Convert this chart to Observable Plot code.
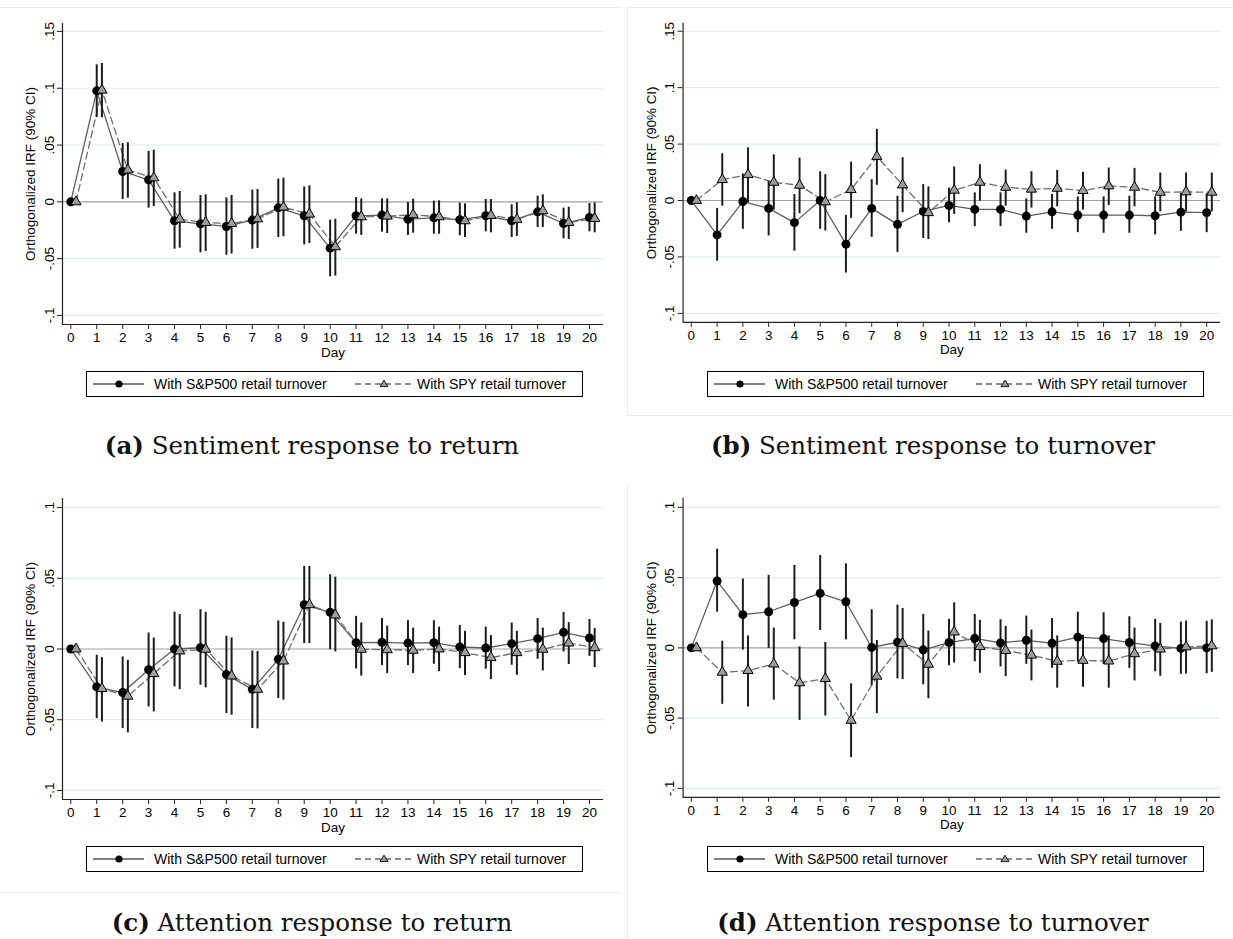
<!DOCTYPE html>
<html><head><meta charset="utf-8">
<script src="https://cdn.jsdelivr.net/npm/d3@7"></script>
<script src="https://cdn.jsdelivr.net/npm/@observablehq/plot@0.6"></script>
<style>
body{margin:0;background:#fff;}
#root{position:relative;width:1233px;height:939px;overflow:hidden;background:#fff;font-family:"Liberation Sans",Arial,sans-serif;}
.panel{position:absolute;}
.legend{position:absolute;border:1px solid #000;background:#fff;box-sizing:border-box;height:26px;width:497px;font-size:14px;color:#000;}
.legend span{position:absolute;top:50%;transform:translateY(-50%);white-space:nowrap;}
.legend svg{position:absolute;left:0;top:0;}
.cap{position:absolute;font-family:"DejaVu Serif",serif;font-size:24.5px;white-space:nowrap;transform:translate(-50%,-50%);color:#111;}
.bline{position:absolute;background:#ececec;}
</style></head><body><div id="root"></div>
<script>
// ---- data ----
const days = [0,1,2,3,4,5,6,7,8,9,10,11,12,13,14,15,16,17,18,19,20];
const topTicks = [-0.1,-0.05,0,0.05,0.1,0.15];
const bottomTicks = [-0.1,-0.05,0,0.05,0.1];
const seriesNames = ["With S&P500 retail turnover","With SPY retail turnover"];
const captionsBold = ["(a)","(b)","(c)","(d)"];
const captionsText = ["Sentiment response to return","Sentiment response to turnover","Attention response to return","Attention response to turnover"];
const yLabel = "Orthogonalized IRF (90% CI)";
const xLabel = "Day";

// (a) Sentiment response to return
const aSP    = [0,0.0977,0.0267,0.0194,-0.0167,-0.0194,-0.0217,-0.0161,-0.0053,-0.0123,-0.0408,-0.0123,-0.0117,-0.0153,-0.0141,-0.0158,-0.0123,-0.0167,-0.0088,-0.0191,-0.0138];
const aSPlo  = [null,0.0742,0.0020,-0.0056,-0.0417,-0.0449,-0.0470,-0.0417,-0.0314,-0.0379,-0.0660,-0.0285,-0.0267,-0.0296,-0.0285,-0.0299,-0.0264,-0.0314,-0.0226,-0.0326,-0.0264];
const aSPhi  = [null,0.1206,0.0513,0.0443,0.0079,0.0056,0.0035,0.0103,0.0200,0.0132,-0.0161,0.0038,0.0026,-0.0006,0.0006,-0.0012,0.0020,-0.0026,0.0050,-0.0056,-0.0015];
const aSPY   = [0,0.0983,0.0280,0.0211,-0.0153,-0.0182,-0.0191,-0.0150,-0.0047,-0.0108,-0.0396,-0.0132,-0.0126,-0.0114,-0.0132,-0.0167,-0.0120,-0.0155,-0.0079,-0.0182,-0.0147];
const aSPYlo = [null,0.0740,0.0032,-0.0041,-0.0408,-0.0437,-0.0460,-0.0410,-0.0308,-0.0367,-0.0654,-0.0296,-0.0279,-0.0276,-0.0285,-0.0314,-0.0273,-0.0305,-0.0226,-0.0332,-0.0273];
const aSPYhi = [null,0.1218,0.0520,0.0455,0.0091,0.0062,0.0056,0.0109,0.0209,0.0141,-0.0153,0.0026,0.0026,0.0023,0.0009,-0.0018,0.0020,-0.0009,0.0062,-0.0047,-0.0009];

// (b) Sentiment response to turnover
const bSP    = [0,-0.0305,-0.0009,-0.0070,-0.0196,0.0000,-0.0387,-0.0070,-0.0211,-0.0097,-0.0044,-0.0079,-0.0079,-0.0138,-0.0100,-0.0129,-0.0129,-0.0129,-0.0135,-0.0103,-0.0108];
const bSPlo  = [null,-0.0537,-0.0255,-0.0314,-0.0449,-0.0255,-0.0643,-0.0326,-0.0460,-0.0337,-0.0196,-0.0232,-0.0232,-0.0290,-0.0255,-0.0285,-0.0290,-0.0290,-0.0305,-0.0273,-0.0285];
const bSPhi  = [null,-0.0070,0.0235,0.0170,0.0053,0.0255,-0.0132,0.0185,0.0038,0.0141,0.0112,0.0068,0.0068,0.0015,0.0053,0.0032,0.0032,0.0038,0.0032,0.0062,0.0059];
const bSPY   = [0,0.0185,0.0229,0.0161,0.0135,-0.0012,0.0097,0.0390,0.0138,-0.0108,0.0091,0.0161,0.0117,0.0100,0.0108,0.0088,0.0129,0.0117,0.0073,0.0076,0.0073];
const bSPYlo = [null,-0.0050,-0.0021,-0.0085,-0.0117,-0.0270,-0.0158,0.0135,-0.0108,-0.0346,-0.0123,-0.0006,-0.0050,-0.0067,-0.0056,-0.0085,-0.0044,-0.0056,-0.0100,-0.0100,-0.0100];
const bSPYhi = [null,0.0414,0.0467,0.0405,0.0376,0.0229,0.0340,0.0631,0.0379,0.0121,0.0297,0.0317,0.0270,0.0255,0.0267,0.0250,0.0288,0.0285,0.0244,0.0244,0.0244];

// (c) Attention response to return
const cSP    = [0,-0.0268,-0.0308,-0.0146,0.0000,0.0009,-0.0181,-0.0285,-0.0073,0.0313,0.0259,0.0045,0.0047,0.0042,0.0045,0.0014,0.0007,0.0038,0.0073,0.0118,0.0078];
const cSPlo  = [null,-0.0492,-0.0562,-0.0410,-0.0268,-0.0256,-0.0456,-0.0562,-0.0350,0.0038,-0.0005,-0.0141,-0.0117,-0.0117,-0.0108,-0.0139,-0.0143,-0.0115,-0.0073,-0.0021,-0.0052];
const cSPhi  = [null,-0.0044,-0.0056,0.0113,0.0261,0.0278,0.0090,-0.0014,0.0198,0.0584,0.0525,0.0231,0.0215,0.0200,0.0200,0.0167,0.0155,0.0184,0.0215,0.0259,0.0208];
const cSPY   = [0,-0.0280,-0.0334,-0.0174,-0.0014,-0.0002,-0.0191,-0.0285,-0.0085,0.0313,0.0240,-0.0002,-0.0005,-0.0009,0.0000,-0.0026,-0.0061,-0.0026,-0.0002,0.0042,0.0009];
const cSPYlo = [null,-0.0516,-0.0593,-0.0445,-0.0287,-0.0275,-0.0468,-0.0565,-0.0362,0.0038,-0.0021,-0.0191,-0.0174,-0.0174,-0.0160,-0.0188,-0.0216,-0.0186,-0.0155,-0.0110,-0.0131];
const cSPYhi = [null,-0.0061,-0.0080,0.0078,0.0243,0.0259,0.0078,-0.0018,0.0189,0.0584,0.0508,0.0184,0.0162,0.0148,0.0155,0.0125,0.0095,0.0125,0.0148,0.0186,0.0144];

// (d) Attention response to turnover
const dSP    = [0,0.0476,0.0236,0.0257,0.0323,0.0388,0.0328,0.0003,0.0040,-0.0014,0.0038,0.0068,0.0035,0.0054,0.0033,0.0076,0.0066,0.0038,0.0014,-0.0004,0.0000];
const dSPlo  = [null,0.0254,-0.0016,-0.0004,0.0057,0.0123,0.0057,-0.0268,-0.0221,-0.0263,-0.0127,-0.0099,-0.0136,-0.0117,-0.0146,-0.0103,-0.0117,-0.0146,-0.0170,-0.0188,-0.0184];
const dSPhi  = [null,0.0702,0.0490,0.0516,0.0586,0.0657,0.0598,0.0271,0.0304,0.0238,0.0203,0.0238,0.0200,0.0226,0.0208,0.0254,0.0250,0.0222,0.0203,0.0184,0.0189];
const dSPY   = [0,-0.0174,-0.0162,-0.0115,-0.0249,-0.0219,-0.0516,-0.0202,0.0031,-0.0117,0.0113,0.0009,-0.0019,-0.0052,-0.0096,-0.0089,-0.0094,-0.0042,-0.0009,0.0007,0.0014];
const dSPYlo = [null,-0.0402,-0.0421,-0.0372,-0.0516,-0.0485,-0.0781,-0.0468,-0.0226,-0.0362,-0.0108,-0.0181,-0.0205,-0.0235,-0.0287,-0.0280,-0.0287,-0.0235,-0.0202,-0.0186,-0.0174];
const dSPYhi = [null,0.0047,0.0085,0.0141,0.0007,0.0038,-0.0256,0.0052,0.0280,0.0120,0.0321,0.0196,0.0153,0.0127,0.0085,0.0090,0.0085,0.0141,0.0174,0.0191,0.0200];

// ---- layout / style ----
const SPY_OFFSET = 0.2;
const X_DOMAIN = [-0.32, 20.54];
const TOP_DOMAIN = [-0.108, 0.157];
const BOTTOM_DOMAIN = [-0.1064, 0.1064];
const FONT = '"Liberation Sans", Arial, Helvetica, sans-serif';
const FS = 13.5;

const panels = [
  {left:0,   top:0,   sp:aSP, spLo:aSPlo, spHi:aSPhi, spy:aSPY, spyLo:aSPYlo, spyHi:aSPYhi, dom:TOP_DOMAIN, ticks:topTicks, capY:445},
  {left:621, top:0,   sp:bSP, spLo:bSPlo, spHi:bSPhi, spy:bSPY, spyLo:bSPYlo, spyHi:bSPYhi, dom:TOP_DOMAIN, ticks:topTicks, capY:445},
  {left:0,   top:475, sp:cSP, spLo:cSPlo, spHi:cSPhi, spy:cSPY, spyLo:cSPYlo, spyHi:cSPYhi, dom:BOTTOM_DOMAIN, ticks:bottomTicks, capY:922},
  {left:621, top:475, sp:dSP, spLo:dSPlo, spHi:dSPhi, spy:dSPY, spyLo:dSPYlo, spyHi:dSPYhi, dom:BOTTOM_DOMAIN, ticks:bottomTicks, capY:922}
];

const fmt = v => v === 0 ? "0" : String(+v.toFixed(2)).replace("0.", ".");

function makePlot(p) {
  const sp = days.map((d,i) => ({day:d, v:p.sp[i], lo:p.spLo[i], hi:p.spHi[i]}));
  const spy = days.map((d,i) => ({day:d + SPY_OFFSET, v:p.spy[i], lo:p.spyLo[i], hi:p.spyHi[i]}));
  const ci = sp.concat(spy).filter(d => d.lo != null && d.hi != null);
  return Plot.plot({
    width: 616, height: 365,
    marginLeft: 62, marginRight: 13, marginTop: 23, marginBottom: 41,
    style: {fontFamily: FONT, fontSize: FS + "px", color: "#000", background: "transparent", overflow: "visible"},
    x: {domain: X_DOMAIN},
    y: {domain: p.dom},
    marks: [
      Plot.gridY(p.ticks.filter(t => t !== 0), {stroke: "#e2eced", strokeOpacity: 1, strokeWidth: 1.2}),
      Plot.ruleY([0], {stroke: "#a0a0a0", strokeWidth: 1.2}),
      Plot.ruleX([X_DOMAIN[0]], {stroke: "#222", strokeWidth: 1.2}),
      Plot.ruleY([p.dom[0]], {stroke: "#222", strokeWidth: 1.2}),
      Plot.axisX(days, {tickSize: 5, tickPadding: 3, label: null, fontSize: FS, stroke: "#222"}),
      Plot.axisY(p.ticks, {tickSize: 5, tickPadding: 4, tickRotate: -90, tickFormat: fmt, label: null, fontSize: FS, stroke: "#222"}),
      Plot.text([xLabel], {text: d => d, frameAnchor: "bottom", dy: 32, fontSize: FS, fill: "#000"}),
      Plot.text([yLabel], {text: d => d, frameAnchor: "left", dx: -32, rotate: -90, textAnchor: "middle", fontSize: FS, fill: "#000"}),
      Plot.line(sp, {x: "day", y: "v", stroke: "#5e5e5e", strokeWidth: 1.3}),
      Plot.line(spy, {x: "day", y: "v", stroke: "#6e6e6e", strokeWidth: 1.3, strokeDasharray: "7,4"}),
      Plot.ruleX(ci, {x: "day", y1: "lo", y2: "hi", stroke: "#1c1c1c", strokeWidth: 2}),
      Plot.dot(sp, {x: "day", y: "v", r: 4.5, fill: "#000"}),
      Plot.dot(spy, {x: "day", y: "v", r: 3.8, symbol: "triangle", fill: "#9c9c9c", stroke: "#000", strokeWidth: 1})
    ]
  });
}

const root = document.getElementById("root");

// faint graph-region borders
function bline(l, t, w, h) {
  const d = document.createElement("div");
  d.className = "bline";
  Object.assign(d.style, {left: l + "px", top: t + "px", width: w + "px", height: h + "px"});
  root.appendChild(d);
}
bline(0, 7, 620, 1);
bline(627, 7, 606, 1);
bline(627, 7, 1, 409);
bline(627, 415, 606, 1);
bline(0, 892, 620, 1);
bline(627, 483, 1, 456);

panels.forEach((p, i) => {
  const wrap = document.createElement("div");
  wrap.className = "panel";
  wrap.style.left = p.left + "px";
  wrap.style.top = p.top + "px";
  wrap.appendChild(makePlot(p));
  root.appendChild(wrap);

  // legend
  const lg = document.createElement("div");
  lg.className = "legend";
  lg.style.left = (p.left + 86) + "px";
  lg.style.top = (p.top + 371) + "px";
  lg.innerHTML =
    '<svg width="495" height="24">' +
    '<line x1="6" x2="57" y1="12" y2="12" stroke="#555" stroke-width="1.3"/>' +
    '<circle cx="32" cy="12" r="3.6" fill="#000"/>' +
    '<line x1="268" x2="325" y1="12" y2="12" stroke="#666" stroke-width="1.3" stroke-dasharray="6,4"/>' +
    '<path d="M297,8.2 L301,14.6 L293,14.6 Z" fill="#9c9c9c" stroke="#000" stroke-width="0.9"/>' +
    '</svg>' +
    '<span style="left:67px">' + seriesNames[0] + '</span>' +
    '<span style="left:330px">' + seriesNames[1] + '</span>';
  root.appendChild(lg);

  // caption
  const cap = document.createElement("div");
  cap.className = "cap";
  cap.style.left = (p.left + 312) + "px";
  cap.style.top = p.capY + "px";
  cap.innerHTML = '<b>' + captionsBold[i] + '</b> ' + captionsText[i];
  root.appendChild(cap);
});
</script></body></html>
